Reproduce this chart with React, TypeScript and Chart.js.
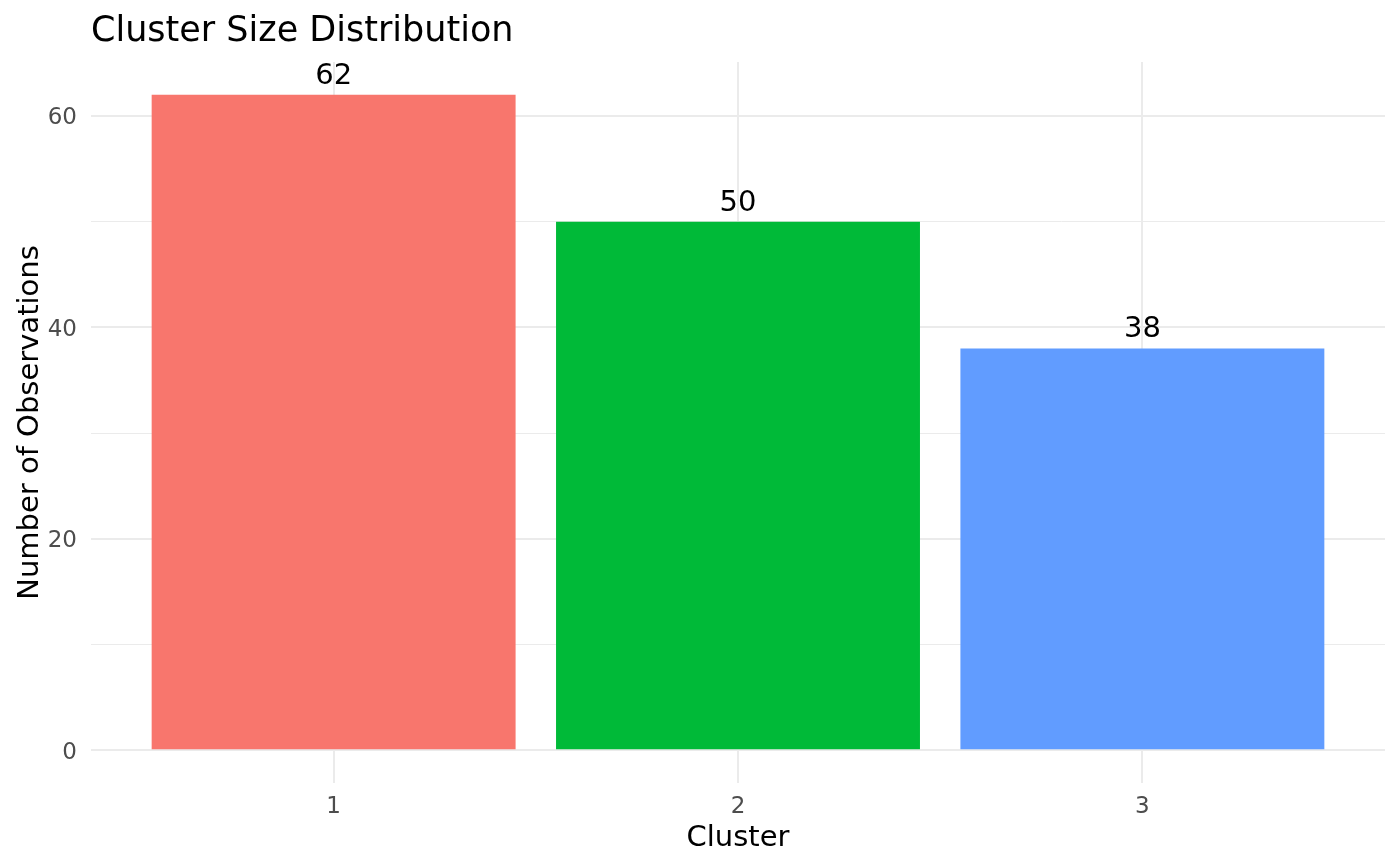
import React, { useEffect, useRef } from 'react';
import Chart from 'chart.js/auto';

// === Data ===
const CLUSTERS = ['1', '2', '3'];
const CLUSTER_POS = [1, 2, 3];
const COUNTS = [62, 50, 38];
const BAR_COLORS = ['#F8766D', '#00BA38', '#619CFF'];
const Y_TICKS = [0, 10, 20, 30, 40, 50, 60];
const Y_MAJOR = [0, 20, 40, 60];

const TITLE = 'Cluster Size Distribution';
const X_TITLE = 'Cluster';
const Y_TITLE = 'Number of Observations';

const FONT = '"DejaVu Sans", sans-serif';
const GRID = '#EBEBEB';

// ggplot-ish text: title, axis titles, y tick labels, bar labels
const textPlugin = {
  id: 'ggText',
  afterDatasetsDraw(chart: any) {
    const { ctx } = chart;
    const meta = chart.getDatasetMeta(0);
    ctx.save();
    ctx.fillStyle = '#000000';
    ctx.font = `29px ${FONT}`;
    ctx.textAlign = 'center';
    ctx.textBaseline = 'alphabetic';
    meta.data.forEach((bar: any, i: number) => {
      ctx.fillText(String(COUNTS[i]), bar.x, bar.y - 11);
    });
    ctx.restore();
  },
  afterDraw(chart: any) {
    const { ctx, chartArea, scales } = chart;
    ctx.save();
    ctx.textBaseline = 'alphabetic';

    // y tick labels, digits centred on the grid line
    ctx.fillStyle = '#4D4D4D';
    ctx.font = `23px ${FONT}`;
    ctx.textAlign = 'right';
    Y_MAJOR.forEach(v => {
      ctx.fillText(String(v), chartArea.left - 14, scales.y.getPixelForValue(v) + 8.5);
    });

    ctx.fillStyle = '#000000';
    ctx.font = `35px ${FONT}`;
    ctx.textAlign = 'left';
    ctx.fillText(TITLE, chartArea.left, 41);

    ctx.font = `29px ${FONT}`;
    ctx.textAlign = 'center';
    ctx.fillText(X_TITLE, (chartArea.left + chartArea.right) / 2, 846);

    ctx.translate(38, (chartArea.top + chartArea.bottom) / 2);
    ctx.rotate(-Math.PI / 2);
    ctx.fillText(Y_TITLE, 0, 0);
    ctx.restore();
  },
};

const App: React.FC = () => {
  const canvasRef = useRef<HTMLCanvasElement>(null);

  useEffect(() => {
    document.body.style.margin = '0';
    if (!canvasRef.current) return;

    const chart = new Chart(canvasRef.current, {
      type: 'bar',
      data: {
        labels: CLUSTERS,
        datasets: [
          {
            data: CLUSTER_POS.map((x, i) => ({ x, y: COUNTS[i] })),
            backgroundColor: BAR_COLORS,
            borderWidth: 0,
            barPercentage: 0.9,
            categoryPercentage: 1,
          },
        ],
      },
      options: {
        animation: false,
        responsive: false,
        maintainAspectRatio: false,
        layout: { padding: { top: 62, right: 15, left: 0, bottom: 0 } },
        plugins: {
          legend: { display: false },
          title: { display: false },
          tooltip: { enabled: false },
        },
        scales: {
          x: {
            type: 'linear',
            min: 0.4,
            max: 3.6,
            offset: false,
            afterBuildTicks: (scale: any) => {
              scale.ticks = CLUSTER_POS.map(v => ({ value: v }));
            },
            afterFit: (scale: any) => {
              scale.height = 83;
            },
            grid: { color: GRID, lineWidth: 2, drawTicks: false, offset: false },
            border: { display: false },
            ticks: {
              padding: 10,
              color: '#4D4D4D',
              font: { family: FONT, size: 23 },
              callback: (v: any) => CLUSTERS[CLUSTER_POS.indexOf(Number(v))] ?? '',
              maxRotation: 0,
            },
          },
          y: {
            min: -3.1,
            max: 65.1,
            afterBuildTicks: (scale: any) => {
              scale.ticks = Y_TICKS.map(v => ({ value: v }));
            },
            afterFit: (scale: any) => {
              scale.width = 91;
            },
            grid: {
              color: GRID,
              drawTicks: false,
              lineWidth: (c: any) => (Y_MAJOR.includes(c.tick?.value) ? 2 : 1),
            },
            border: { display: false },
            ticks: { display: false },
          },
        },
      },
      plugins: [textPlugin],
    });

    return () => {
      chart.destroy();
    };
  }, []);

  return (
    <div style={{ width: 1400, height: 866, background: '#FFFFFF' }}>
      <canvas ref={canvasRef} width={1400} height={866} />
    </div>
  );
};

export default App;
